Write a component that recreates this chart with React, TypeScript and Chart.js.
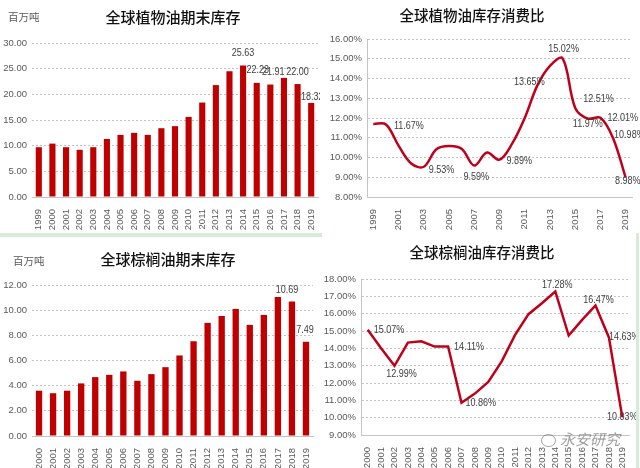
import React, { useEffect, useRef } from 'react';
import { Chart, registerables } from 'chart.js';

Chart.register(...registerables);

// ---------- data ----------
const vegYears = ['1999', '2000', '2001', '2002', '2003', '2004', '2005', '2006', '2007', '2008', '2009', '2010', '2011', '2012', '2013', '2014', '2015', '2016', '2017', '2018', '2019'];
const vegStocks = [9.7, 10.4, 9.7, 9.2, 9.7, 11.3, 12.1, 12.5, 12.1, 13.4, 13.8, 15.6, 18.4, 21.8, 24.5, 25.63, 22.23, 21.91, 23.2, 22.0, 18.32];
const vegRatio = [11.7, 11.67, 10.6, 9.7, 9.53, 10.42, 10.58, 10.44, 9.59, 10.25, 9.89, 10.7, 12.0, 13.65, 14.64, 15.02, 12.51, 11.97, 12.01, 10.98, 8.98];

const palmYears = ['2000', '2001', '2002', '2003', '2004', '2005', '2006', '2007', '2008', '2009', '2010', '2011', '2012', '2013', '2014', '2015', '2016', '2017', '2018', '2019'];
const palmStocks = [3.6, 3.4, 3.6, 4.18, 4.68, 4.86, 5.13, 4.39, 4.92, 5.47, 6.4, 7.53, 8.99, 9.54, 10.1, 8.83, 9.62, 11.05, 10.69, 7.49];
const palmRatio = [15.07, 14.0, 12.99, 14.33, 14.41, 14.1, 14.11, 10.86, 11.39, 12.06, 13.25, 14.78, 15.97, 16.6, 17.28, 14.74, 15.64, 16.47, 14.63, 10.03];

const titles = ['全球植物油期末库存', '全球植物油库存消费比', '全球棕榈油期末库存', '全球棕榈油库存消费比'];
const unitLabel = '百万吨';
const watermark = '永安研究';

// ---------- label placement (index of labelled point + offset) ----------
type LabelSpec = { i: number; dx: number; dy: number; align: CanvasTextAlign };
const vegStockLabelSpec: LabelSpec[] = [
  { i: 15, dx: 0, dy: -12, align: 'center' },
  { i: 16, dx: 1, dy: -13, align: 'center' },
  { i: 17, dx: 3, dy: -12, align: 'center' },
  { i: 19, dx: 0, dy: -12, align: 'center' },
  { i: 20, dx: 1, dy: -6, align: 'center' },
];
const vegRatioLabelSpec: LabelSpec[] = [
  { i: 1, dx: 8, dy: 2, align: 'left' },
  { i: 4, dx: 5, dy: 3, align: 'left' },
  { i: 8, dx: 2, dy: 12, align: 'center' },
  { i: 10, dx: 7, dy: 1, align: 'left' },
  { i: 13, dx: -8, dy: -3, align: 'center' },
  { i: 15, dx: 1, dy: -9, align: 'center' },
  { i: 16, dx: 8, dy: -9, align: 'left' },
  { i: 17, dx: 0, dy: 6, align: 'center' },
  { i: 18, dx: 7, dy: 0, align: 'left' },
  { i: 19, dx: 1, dy: -3, align: 'left' },
  { i: 20, dx: 2, dy: 3, align: 'center' },
];
const palmStockLabelSpec: LabelSpec[] = [
  { i: 18, dx: -5, dy: -11, align: 'center' },
  { i: 19, dx: -1, dy: -12, align: 'center' },
];
const palmRatioLabelSpec: LabelSpec[] = [
  { i: 0, dx: 6, dy: 0, align: 'left' },
  { i: 2, dx: 7, dy: 8, align: 'center' },
  { i: 6, dx: 6, dy: 1, align: 'left' },
  { i: 7, dx: 4, dy: 0, align: 'left' },
  { i: 14, dx: 2, dy: -6, align: 'center' },
  { i: 17, dx: 3, dy: -5, align: 'center' },
  { i: 18, dx: 0, dy: 0, align: 'left' },
  { i: 19, dx: 0, dy: 0, align: 'center' },
];

// ---------- styles ----------
const RED = '#C00000';
const LINE_RED = '#C0001A';
const GRID = '#c4c4c4';
const TICK = '#595959';
const NUM_FONT = "'Liberation Sans Narrow', 'Liberation Sans', Arial, sans-serif";
const CJK_FONT = "'Noto Sans CJK SC', 'Noto Sans', sans-serif";

function labelPlugin(specs: LabelSpec[], fmt: (v: number) => string) {
  return {
    id: 'pointLabels',
    afterDatasetsDraw(chart: any) {
      const meta = chart.getDatasetMeta(0);
      const data = chart.data.datasets[0].data as number[];
      const ctx = chart.ctx as CanvasRenderingContext2D;
      specs.forEach((s) => {
        const el = meta.data[s.i];
        if (!el) return;
        ctx.save();
        ctx.translate(el.x + s.dx, el.y + s.dy);
        ctx.scale(0.86, 1);
        ctx.font = `10.5px ${NUM_FONT}`;
        ctx.fillStyle = '#404040';
        ctx.textBaseline = 'middle';
        ctx.textAlign = s.align;
        ctx.fillText(fmt(data[s.i]), 0, 0);
        ctx.restore();
      });
    },
  };
}

type PanelProps = {
  kind: 'bar' | 'line';
  labels: string[];
  values: number[];
  width: number;
  height: number;
  yMin: number;
  yMax: number;
  yStep: number;
  percent: boolean;
  axisW: number;
  xH: number;
  padTop: number;
  padRight: number;
  tension: number;
  everyOther: boolean;
  yBorder: boolean;
  specs: LabelSpec[];
};

function Panel(p: PanelProps) {
  const ref = useRef<HTMLCanvasElement | null>(null);
  useEffect(() => {
    if (!ref.current) return;
    const fmtTick = (v: number) => (p.percent ? v.toFixed(2) + '%' : v.toFixed(2));
    const dataset: any =
      p.kind === 'bar'
        ? {
            data: p.values,
            backgroundColor: RED,
            borderWidth: 0,
            barPercentage: 0.45,
            categoryPercentage: 1,
          }
        : {
            data: p.values,
            borderColor: LINE_RED,
            borderWidth: 2.5,
            pointRadius: 0,
            tension: p.tension,
            fill: false,
          };
    const chart = new Chart(ref.current, {
      type: p.kind,
      data: { labels: p.labels, datasets: [dataset] },
      options: {
        responsive: false,
        animation: false,
        layout: { padding: { top: p.padTop, right: p.padRight, left: 0, bottom: 0 } },
        plugins: { legend: { display: false }, tooltip: { enabled: false }, title: { display: false } },
        scales: {
          x: {
            offset: true,
            grid: { display: false },
            border: { display: true, color: GRID, width: 1 },
            ticks: {
              autoSkip: false,
              maxRotation: 90,
              minRotation: 90,
              padding: 4,
              color: TICK,
              font: { family: NUM_FONT, size: 9.5 },
              callback: function (this: any, _v: any, i: number) {
                if (p.everyOther && i % 2 === 1) return '';
                return p.labels[i];
              },
            },
            afterFit: (s: any) => {
              s.height = p.xH;
              s.paddingLeft = 0;
              s.paddingRight = 0;
            },
          },
          y: {
            min: p.yMin,
            max: p.yMax,
            grid: { color: GRID, lineWidth: 1, drawTicks: false },
            border: { display: p.yBorder, color: GRID, dash: [2, 2] },
            ticks: {
              stepSize: p.yStep,
              padding: 5,
              color: TICK,
              font: { family: NUM_FONT, size: 9.5 },
              callback: (v: any) => fmtTick(Number(v)),
            },
            afterFit: (s: any) => {
              s.width = p.axisW;
            },
          },
        },
      },
      plugins: [labelPlugin(p.specs, (v) => (p.percent ? v.toFixed(2) + '%' : v.toFixed(2)))],
    });
    return () => chart.destroy();
  }, []);
  return <canvas ref={ref} width={p.width} height={p.height} style={{ display: 'block' }} />;
}

const abs = (left: number, top: number, extra: React.CSSProperties = {}): React.CSSProperties => ({
  position: 'absolute',
  left,
  top,
  ...extra,
});

const titleStyle = (size: number): React.CSSProperties => ({
  width: 200,
  textAlign: 'center',
  fontFamily: CJK_FONT,
  fontSize: size,
  fontWeight: 500,
  color: '#111',
  lineHeight: '22px',
  whiteSpace: 'nowrap',
});

export default function App() {
  return (
    <div style={{ position: 'fixed', left: 0, top: 0, width: 640, height: 468, background: '#fff', overflow: 'hidden' }}>
      {/* panel 1 */}
      <div style={abs(0, 0)}>
        <Panel kind="bar" labels={vegYears} values={vegStocks} width={320} height={232} yMin={0} yMax={30} yStep={5}
          percent={false} axisW={32} xH={35} padTop={43} padRight={2} tension={0} everyOther={false} yBorder={false} specs={vegStockLabelSpec} />
      </div>
      <div style={abs(8, 9, { fontFamily: CJK_FONT, fontSize: 10.5, color: '#595959', lineHeight: '16px' })}>{unitLabel}</div>
      <div style={abs(73, 6, titleStyle(15))}>{titles[0]}</div>

      {/* panel 2 */}
      <div style={abs(320, 0)}>
        <Panel kind="line" labels={vegYears} values={vegRatio} width={320} height={232} yMin={8} yMax={16} yStep={1}
          percent={true} axisW={47} xH={35} padTop={39} padRight={8} tension={0.35} everyOther={true} yBorder={true} specs={vegRatioLabelSpec} />
      </div>
      <div style={abs(372, 4, titleStyle(14.5))}>{titles[1]}</div>

      {/* separators */}
      <div style={abs(0, 233, { width: 322, height: 4, background: '#d6ecd8' })} />
      <div style={abs(636, 233, { width: 3, height: 235, background: '#d6ecd8' })} />

      {/* panel 3 */}
      <div style={abs(0, 238)}>
        <Panel kind="bar" labels={palmYears} values={palmStocks} width={320} height={230} yMin={0} yMax={12} yStep={2}
          percent={false} axisW={32} xH={32} padTop={47} padRight={7} tension={0} everyOther={false} yBorder={false} specs={palmStockLabelSpec} />
      </div>
      <div style={abs(13, 253, { fontFamily: CJK_FONT, fontSize: 10.5, color: '#595959', lineHeight: '16px' })}>{unitLabel}</div>
      <div style={abs(68, 248, titleStyle(15))}>{titles[2]}</div>

      {/* panel 4 */}
      <div style={abs(320, 238)}>
        <Panel kind="line" labels={palmYears} values={palmRatio} width={316} height={230} yMin={9} yMax={18} yStep={1}
          percent={true} axisW={41} xH={33} padTop={41} padRight={7} tension={0} everyOther={false} yBorder={true} specs={palmRatioLabelSpec} />
      </div>
      <div style={abs(382, 241, titleStyle(14.5))}>{titles[3]}</div>

      {/* watermark */}
      <div style={abs(541, 434, { width: 13, height: 11, borderRadius: '50%', border: '1.5px solid rgba(90,90,90,0.55)' })} />
      <div style={abs(560, 429, { fontFamily: CJK_FONT, fontSize: 15, fontStyle: 'italic', color: 'rgba(80,80,80,0.55)', lineHeight: '20px' })}>{watermark}</div>
    </div>
  );
}
